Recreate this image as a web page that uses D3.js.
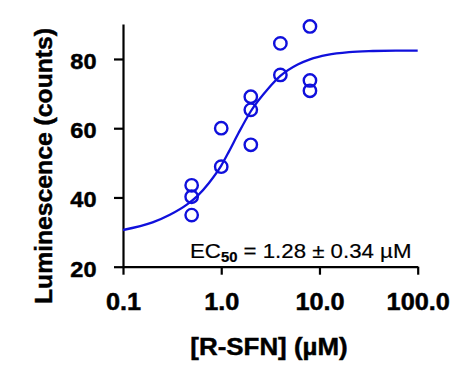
<!DOCTYPE html>
<html>
<head>
<meta charset="utf-8">
<script src="https://cdn.jsdelivr.net/npm/d3@7"></script>
<style>
  html, body { margin: 0; padding: 0; background: #fff; }
  svg { display: block; }
  text { font-family: "Liberation Sans", Arial, sans-serif; fill: #000; }
</style>
</head>
<body>
<svg id="chart" width="470" height="380"></svg>
<script>
// ---- data ----
const doseX = [0.5, 0.5, 0.5, 1, 1, 2, 2, 2, 4, 4, 8, 8, 8];
const lumY  = [43.5, 40.2, 34.9, 60.0, 48.9, 69.1, 65.3, 55.2, 84.5, 75.4, 89.4, 73.8, 70.8];

// fitted curve, values
const fitX = [0.1, 0.2, 0.3, 0.45, 0.57, 0.75, 1.0, 1.2, 1.5, 2.0, 3.0, 4.0, 6.0, 8.0, 12, 20, 35, 60, 100];
const fitY = [30.6, 32.8, 35.0, 38.0, 40.4, 44.2, 49.2, 53.3, 58.6, 64.9, 71.4, 75.1, 78.4, 79.9, 81.2, 82.0, 82.3, 82.4, 82.4];

const xTickValues = [0.1, 1, 10, 100];
const xTickLabels = ["0.1", "1.0", "10.0", "100.0"];
const yTickValues = [20, 40, 60, 80];
const yTickLabels = ["20", "40", "60", "80"];

const xTitle = "[R-SFN] (\u00B5M)";
const yTitle = "Luminescence (counts)";
const ecMain = "EC";
const ecSub = "50";
const ecRest = " = 1.28 \u00B1 0.34 \u00B5M";

// ---- layout ----
const blue = "#1010dc";
const mLeft = 123, mRight = 417.7, mTop = 24, mBottom = 266.7;

const svg = d3.select("#chart");

const x = d3.scaleLog().domain([0.1, 100]).range([mLeft, mRight]);
const y = d3.scaleLinear().domain([20, 90.1]).range([mBottom, mTop]);

function boldText(sel, size) {
  sel.attr("font-size", size)
    .attr("font-weight", "bold")
    .attr("font-family", "Liberation Sans, Arial, sans-serif")
    .attr("fill", "#000")
    .attr("stroke", "#000")
    .attr("stroke-width", 0.45);
}

// x axis
const xAxis = d3.axisBottom(x)
  .tickValues(xTickValues)
  .tickFormat((d, i) => xTickLabels[i])
  .tickSizeInner(8)
  .tickSizeOuter(0);
const gx = svg.append("g").attr("transform", `translate(0,${mBottom})`).call(xAxis);
gx.select(".domain").attr("stroke", "#000").attr("stroke-width", 2.2);
gx.selectAll(".tick line").attr("stroke", "#000").attr("stroke-width", 2.2);
gx.selectAll(".tick text")
  .attr("dy", null)
  .attr("y", 43.5)
  .attr("transform", "scale(1.1,1)")
  .call(boldText, 23);

// y axis
const yAxis = d3.axisLeft(y)
  .tickValues(yTickValues)
  .tickFormat((d, i) => yTickLabels[i])
  .tickSizeInner(9)
  .tickSizeOuter(0);
const gy = svg.append("g").attr("transform", `translate(${mLeft},0)`).call(yAxis);
gy.select(".domain").attr("stroke", "#000").attr("stroke-width", 2.2);
gy.selectAll(".tick line").attr("stroke", "#000").attr("stroke-width", 2.2);
gy.selectAll(".tick text")
  .attr("dy", null)
  .attr("y", 9.5)
  .attr("x", -26.5 / 1.07)
  .attr("transform", "scale(1.07,1)")
  .call(boldText, 22);

// axis titles
svg.append("text")
  .attr("transform", `translate(269,355) scale(1.08,1)`)
  .attr("text-anchor", "middle")
  .call(boldText, 24)
  .text(xTitle);

svg.append("text")
  .attr("transform", `translate(52,166) rotate(-90) scale(1.03,1)`)
  .attr("text-anchor", "middle")
  .call(boldText, 24)
  .text(yTitle);

// fitted curve
const line = d3.line()
  .x((d, i) => x(fitX[i]))
  .y(d => y(d))
  .curve(d3.curveMonotoneX);
svg.append("path")
  .datum(fitY)
  .attr("d", line)
  .attr("fill", "none")
  .attr("stroke", blue)
  .attr("stroke-width", 2.3);

// data points
svg.append("g").selectAll("circle")
  .data(lumY)
  .join("circle")
  .attr("cx", (d, i) => x(doseX[i]))
  .attr("cy", d => y(d))
  .attr("r", 6.2)
  .attr("fill", "none")
  .attr("stroke", blue)
  .attr("stroke-width", 2.4);

// EC50 annotation
const ec = svg.append("text")
  .attr("transform", "translate(190,258) scale(1.06,1)")
  .attr("font-size", 21)
  .attr("stroke", "#000")
  .attr("stroke-width", 0.2);
ec.append("tspan").text(ecMain);
ec.append("tspan").attr("font-size", 14).attr("font-weight", "bold").attr("dy", 4).text(ecSub);
ec.append("tspan").attr("dy", -4).text(ecRest);
</script>
</body>
</html>
